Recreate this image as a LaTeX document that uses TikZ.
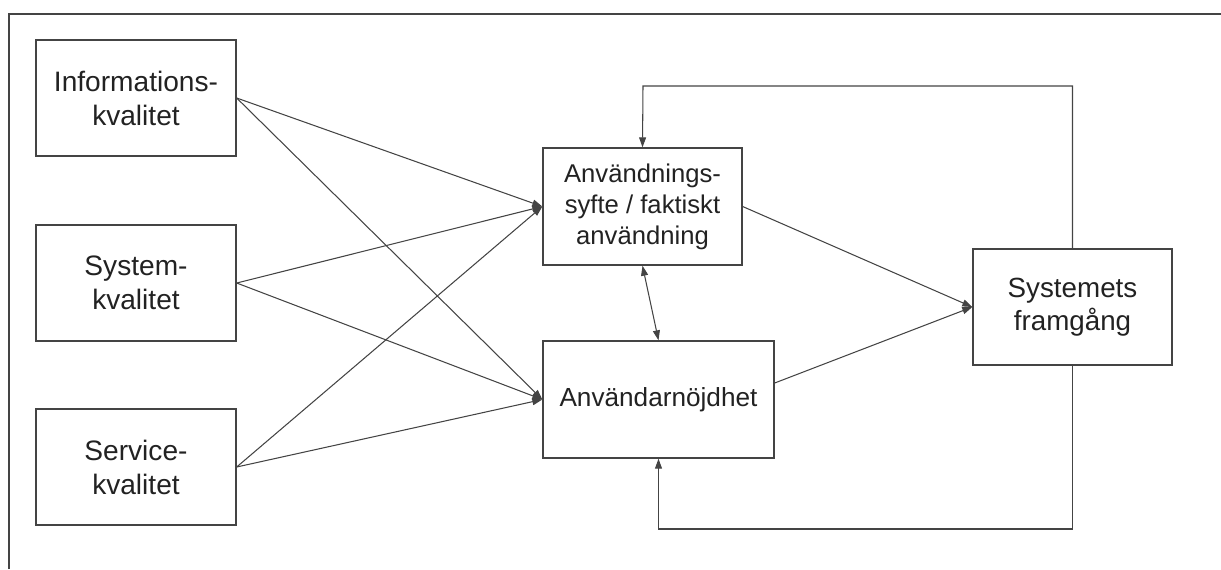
\documentclass[tikz,border=0pt]{standalone}
\usepackage{fontspec}
\setmainfont{Liberation Sans}
\usepackage{xcolor}
\usetikzlibrary{arrows.meta, positioning}

\definecolor{edge}{HTML}{444444}
\definecolor{ink}{HTML}{222222}

\begin{document}
\begin{tikzpicture}[
  x=0.02cm, y=-0.02cm,
  font=\fontsize{16}{19.4}\selectfont, >={Triangle[length=2mm, width=1.4mm]},
  box/.style={draw=edge, line width=0.8pt, align=center, text=ink,
              inner sep=2pt, minimum height=2.32cm, minimum width=4cm},
  ar/.style={->, line width=0.6pt, edge},
  frame/.style={draw=edge, line width=0.8pt},
]
\useasboundingbox (0,0) rectangle (1221,569);
\draw[frame] (9,569) |- (1221,14);

% source boxes
\node[box] (info) at (136,98)  {Informations-\\kvalitet};
\node[box] (sys)  at (136,283) {System-\\kvalitet};
\node[box] (serv) at (136,467) {Service-\\kvalitet};

% middle and right boxes
\node[box, minimum width=3.98cm, minimum height=2.34cm,
      font=\fontsize{14.6}{17.6}\selectfont] (anv) at (642.5,206.5)
  {Användnings-\\syfte / faktiskt\\användning};
\node[box, minimum width=4.62cm, minimum height=2.34cm,
      font=\fontsize{14.9}{18}\selectfont] (nojd) at (658.5,399.5) {Användarnöjdhet};
\node[box, minimum width=3.98cm, font=\fontsize{15.8}{19}\selectfont] (frm)
  at (1072.5,307) {Systemets\\framgång};

\coordinate (fbt) at (643,86);
\coordinate (fbb) at (658.5,529);

\foreach \s in {info, sys, serv} {
  \draw[ar] (\s.east) -- (anv.west);
  \draw[ar] (\s.east) -- (nojd.west);
}
\draw[ar] (anv.east) -- (frm.west);
\draw[ar] ([yshift=0.33cm]nojd.east) -- (frm.west);
\draw[ar, <->] (anv.south) -- (nojd.north);
\draw[ar] (frm.north) |- (fbt) -- (anv.north);
\draw[ar] (frm.south) |- (fbb) -- (nojd.south);
\end{tikzpicture}
\end{document}
